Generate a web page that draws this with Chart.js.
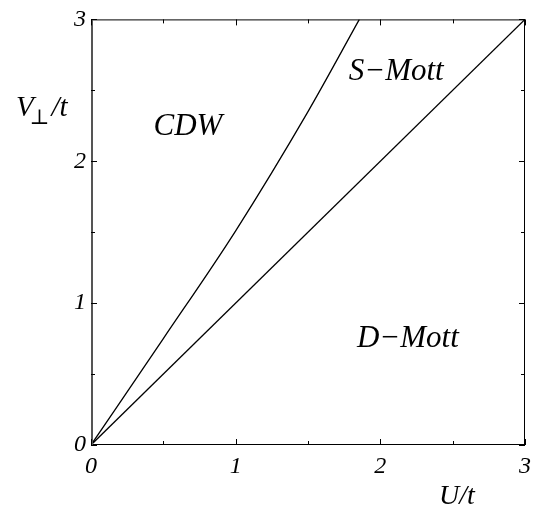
<!DOCTYPE html>
<html>
<head>
<meta charset="utf-8">
<script src="https://cdn.jsdelivr.net/npm/chart.js@4.4.1/dist/chart.umd.min.js"></script>
<style>
  html, body { margin: 0; padding: 0; background: #fff; }
</style>
</head>
<body>
<canvas id="c" width="550" height="521"></canvas>
<script>
/* phase boundaries in the (U/t, V_perp/t) plane */
var CURVE_U = [0, 0.5, 1.0, 1.5, 1.855];
var CURVE_V = [0, 0.75, 1.51, 2.35, 3.0];
var LINE_U = [0, 3];
var LINE_V = [0, 3];
var TICKS = [0, 1, 2, 3];
var MINOR = [0.5, 1.5, 2.5];
var REGIONS = ["CDW", "S\u2212Mott", "D\u2212Mott"];

var SERIF = "'Liberation Serif', 'DejaVu Serif', serif";

function pts(xs, ys) {
  return xs.map(function (x, i) { return { x: x, y: ys[i] }; });
}

/* frame, inward ticks, region names and axis titles */
var decor = {
  id: "decor",
  afterDraw: function (chart) {
    var c = chart.ctx, a = chart.chartArea, sx = chart.scales.x, sy = chart.scales.y;
    c.save();
    c.strokeStyle = "#000";
    c.lineWidth = 1;
    c.strokeRect(a.left + 0.5, a.top + 0.5, a.right - a.left - 1, a.bottom - a.top - 1);
    c.strokeStyle = "#555";
    c.lineWidth = 2;
    c.beginPath(); c.moveTo(a.left + 1, a.top); c.lineTo(a.left + 1, a.bottom); c.stroke();

    c.strokeStyle = "#000";
    c.lineWidth = 1;
    function tick(v, len) {
      var px = Math.round(sx.getPixelForValue(v)) + 0.5;
      var py = Math.round(sy.getPixelForValue(v)) + 0.5;
      c.beginPath();
      c.moveTo(px, a.bottom); c.lineTo(px, a.bottom - len);
      c.moveTo(px, a.top); c.lineTo(px, a.top + len);
      c.moveTo(a.left, py); c.lineTo(a.left + len, py);
      c.moveTo(a.right, py); c.lineTo(a.right - len, py);
      c.stroke();
    }
    TICKS.forEach(function (v) { tick(v, 6); });
    MINOR.forEach(function (v) { tick(v, 4); });

    c.fillStyle = "#000";
    c.textAlign = "center";
    c.textBaseline = "middle";
    c.font = "italic 31px " + SERIF;
    c.fillText(REGIONS[0], sx.getPixelForValue(0.67), sy.getPixelForValue(2.24));
    c.fillText(REGIONS[1], sx.getPixelForValue(2.11), sy.getPixelForValue(2.63));
    c.fillText(REGIONS[2], sx.getPixelForValue(2.19), sy.getPixelForValue(0.75));

    /* x title */
    c.font = "italic 28px " + SERIF;
    c.fillText("U/t", 457, 497);

    /* y title: V with perpendicular subscript */
    c.textAlign = "left";
    c.textBaseline = "alphabetic";
    var x0 = 16, base = 116;
    c.font = "italic 29px " + SERIF;
    c.fillText("V", x0, base);
    var w = c.measureText("V").width;
    c.font = "21px " + SERIF;
    c.fillText("\u22a5", x0 + w - 4, base + 8);
    var w2 = c.measureText("\u22a5").width;
    c.font = "italic 29px " + SERIF;
    c.fillText("/t", x0 + w - 4 + w2 + 2, base);
    c.restore();
  }
};

new Chart(document.getElementById("c"), {
  type: "line",
  data: {
    datasets: [
      { data: pts(CURVE_U, CURVE_V), borderColor: "#000", borderWidth: 1.3, pointRadius: 0,
        cubicInterpolationMode: "monotone", fill: false },
      { data: pts(LINE_U, LINE_V), borderColor: "#000", borderWidth: 1.3, pointRadius: 0, tension: 0, fill: false }
    ]
  },
  options: {
    responsive: false,
    animation: false,
    layout: { padding: { top: 10, right: 25, left: 0, bottom: 0 } },
    plugins: { legend: { display: false }, tooltip: { enabled: false } },
    scales: {
      x: {
        type: "linear", min: 0, max: 3,
        afterFit: function (s) { s.height = 76; },
        afterBuildTicks: function (s) { s.ticks = TICKS.map(function (v) { return { value: v }; }); },
        grid: { drawOnChartArea: false, drawTicks: false },
        border: { display: false },
        ticks: { padding: 7, color: "#000", font: { family: SERIF, size: 24, style: "italic" }, maxRotation: 0 }
      },
      y: {
        type: "linear", min: 0, max: 3,
        afterFit: function (s) { s.width = 91; },
        afterBuildTicks: function (s) { s.ticks = TICKS.map(function (v) { return { value: v }; }); },
        grid: { drawOnChartArea: false, drawTicks: false },
        border: { display: false },
        ticks: { padding: 5, color: "#000", font: { family: SERIF, size: 24, style: "italic" } }
      }
    }
  },
  plugins: [decor]
});
</script>
</body>
</html>
